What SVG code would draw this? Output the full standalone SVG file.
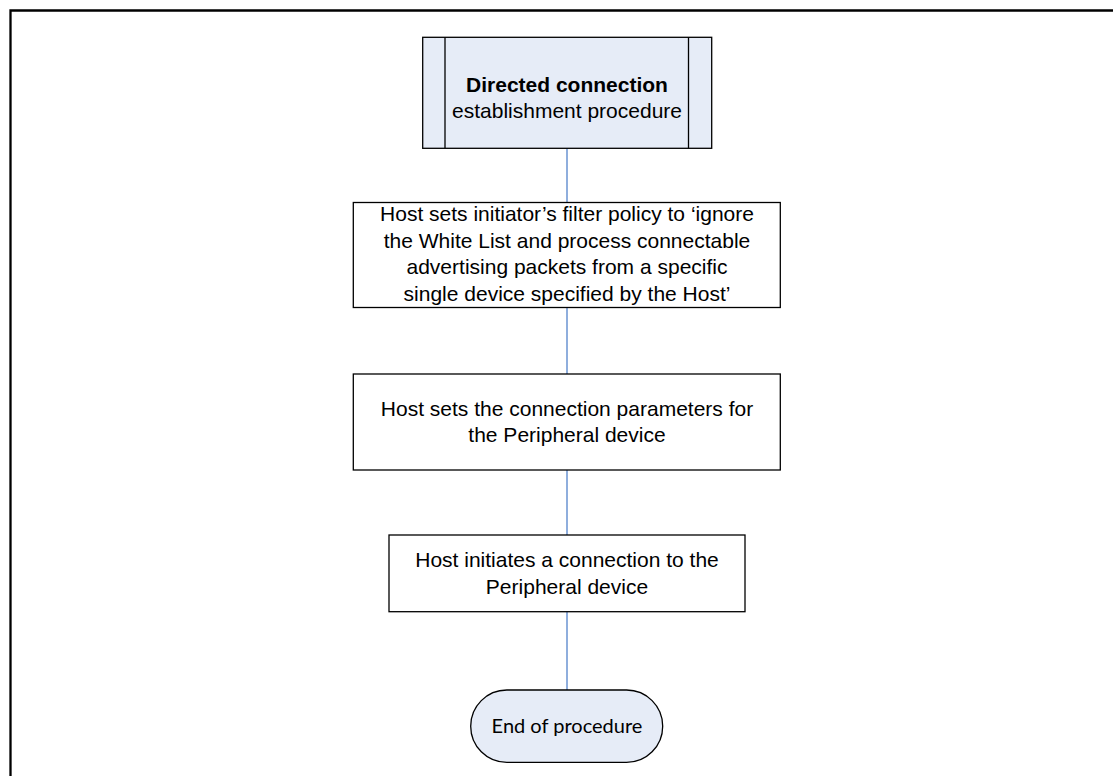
<svg xmlns="http://www.w3.org/2000/svg" width="1113" height="776" viewBox="0 0 1113 776">
<style>
.box{fill:#ffffff;stroke:#000;stroke-width:1.3}
.hl{fill:#e6ecf7;stroke:#000;stroke-width:1.3}
.t{font-family:"Liberation Sans",Arial,sans-serif;font-size:21px;fill:#000;text-anchor:middle}
.b{font-weight:bold}
.c{font-family:Lato,"Open Sans",sans-serif;font-size:20px;fill:#000;text-anchor:middle}
.conn{stroke:#6a93d2;stroke-width:1.5;fill:none}
</style>
<rect width="1113" height="776" fill="#ffffff"/>
<path d="M10.5,776 V10.5 H1113" fill="none" stroke="#000" stroke-width="2.3"/>
<g id="connectors">
<line class="conn" x1="567" y1="148.5" x2="567" y2="202.5"/>
<line class="conn" x1="567" y1="307.5" x2="567" y2="374"/>
<line class="conn" x1="567" y1="470" x2="567" y2="535"/>
<line class="conn" x1="567" y1="611.5" x2="567" y2="690"/>
</g>
<g id="start">
<rect class="hl" x="422.7" y="37.3" width="289" height="111"/>
<line x1="445" y1="37.3" x2="445" y2="148.3" stroke="#000" stroke-width="1.3"/>
<line x1="688.5" y1="37.3" x2="688.5" y2="148.3" stroke="#000" stroke-width="1.3"/>
<text class="t b" x="567" y="91.5">Directed connection</text>
<text class="t" x="567" y="117.5">establishment procedure</text>
</g>
<g id="filter">
<rect class="box" x="353.3" y="202.5" width="427" height="105"/>
<text class="t" x="567" y="221">Host sets initiator’s filter policy to ‘ignore</text>
<text class="t" x="567" y="247.7">the White List and process connectable</text>
<text class="t" x="567" y="274.4">advertising packets from a specific</text>
<text class="t" x="567" y="301">single device specified by the Host’</text>
</g>
<g id="params">
<rect class="box" x="353.3" y="374" width="427" height="96"/>
<text class="t" x="567" y="416">Host sets the connection parameters for</text>
<text class="t" x="567" y="442">the Peripheral device</text>
</g>
<g id="initiate">
<rect class="box" x="389" y="535" width="356" height="76.7"/>
<text class="t" x="567" y="567">Host initiates a connection to the</text>
<text class="t" x="567" y="593.5">Peripheral device</text>
</g>
<g id="end">
<rect class="hl" x="470.7" y="690" width="192" height="72.3" rx="36.15" ry="36.15"/>
<text class="c" x="567" y="733">End of procedure</text>
</g>
</svg>
